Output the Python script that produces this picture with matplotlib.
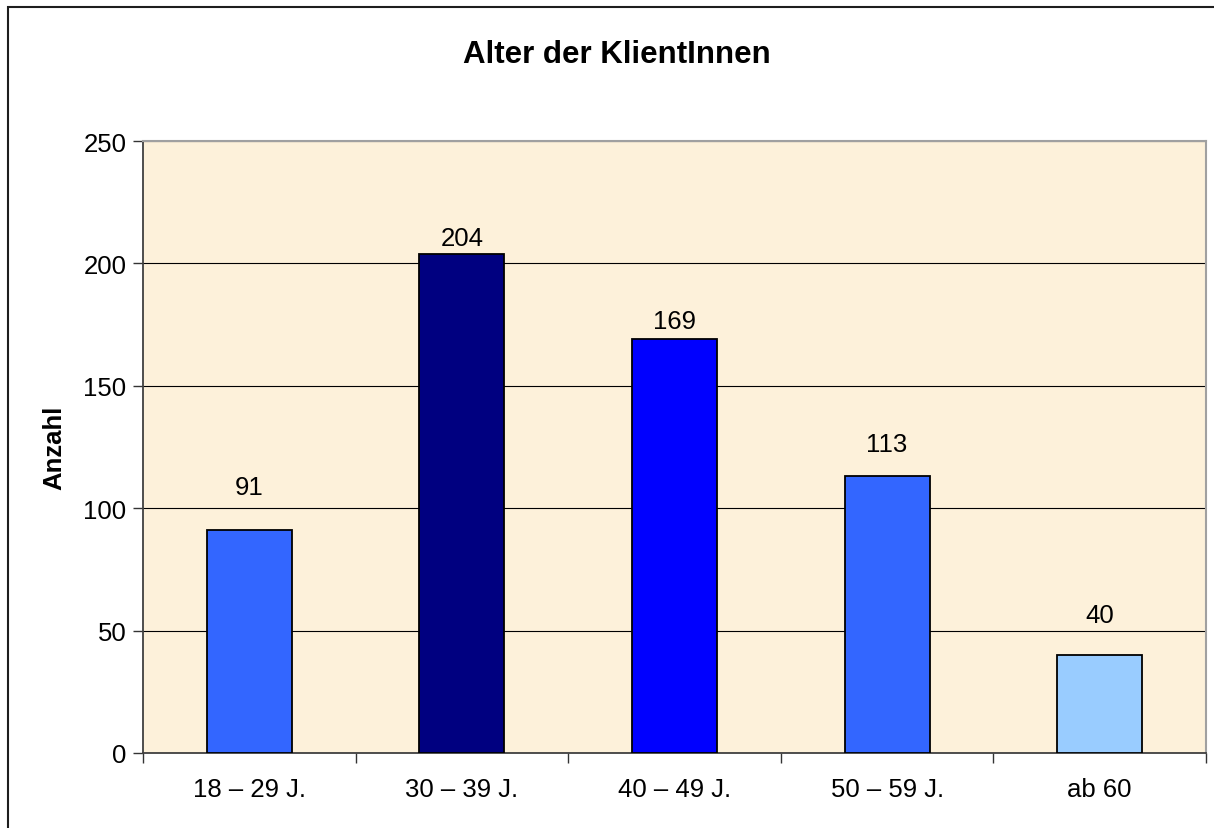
import matplotlib as mpl
import matplotlib.pyplot as plt
from matplotlib.patches import Rectangle

mpl.rcParams["font.family"] = ["Liberation Sans", "DejaVu Sans"]

# data
categories = ["18 – 29 J.", "30 – 39 J.", "40 – 49 J.", "50 – 59 J.", "ab 60"]
counts = [91, 204, 169, 113, 40]
bar_colors = ["#3366FF", "#000080", "#0000FF", "#3366FF", "#99CCFF"]
label_pad = [31, 11.5, 13, 23, 28.5]  # points from bar top to label centre

fig = plt.figure(figsize=(12.14, 8.29), dpi=100)
fig.patch.set_facecolor("white")

# outer chart border (right/bottom run off the image)
fig.add_artist(Rectangle((8 / 1214, -0.05), 1.2, 1 - 8 / 829 + 0.05,
                         transform=fig.transFigure, fill=False,
                         edgecolor="#1E1E1E", linewidth=1.5))

ax = fig.add_axes([143 / 1214, 1 - 754 / 829, (1206 - 143) / 1214, (754 - 142) / 829])
ax.set_facecolor("#FDF1DA")

x = list(range(len(categories)))
ax.bar(x, counts, width=0.4, color=bar_colors, edgecolor="black",
       linewidth=1.3, zorder=3)

for xi, v, pad in zip(x, counts, label_pad):
    ax.annotate(str(v), (xi, v), xytext=(0, pad), textcoords="offset points",
                ha="center", va="center", fontsize=18.5, color="black")

ax.set_xlim(-0.5, len(categories) - 0.5)
ax.set_ylim(0, 250)
ax.set_yticks(range(0, 251, 50))
ax.yaxis.grid(True, color="black", linewidth=0.8, zorder=1)
ax.set_axisbelow(True)

ax.set_xticks(x)
ax.set_xticklabels(categories, fontsize=18.5)
ax.set_xticks([i - 0.5 for i in range(len(categories) + 1)], minor=True)
ax.tick_params(axis="x", which="major", length=0, pad=17)
ax.tick_params(axis="x", which="minor", length=7, width=1, color="#333333")
ax.tick_params(axis="y", length=7, width=1, color="#333333", labelsize=18.5, pad=5)

for side in ("left", "bottom"):
    ax.spines[side].set_color("#404040")
    ax.spines[side].set_linewidth(1.3)
for side in ("top", "right"):
    ax.spines[side].set_color("#A0A0A0")
    ax.spines[side].set_linewidth(1.5)

ax.set_ylabel("Anzahl", fontsize=18.5, fontweight="bold", labelpad=12)
fig.text(617 / 1214, 1 - 55 / 829, "Alter der KlientInnen", ha="center",
         va="center", fontsize=22.5, fontweight="bold")

fig.savefig("out.png", dpi=100)
